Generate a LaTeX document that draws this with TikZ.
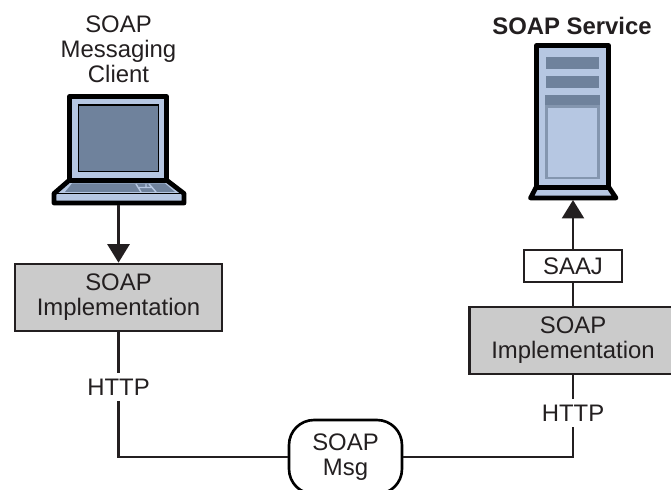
\documentclass[tikz,border=0pt]{standalone}
\usepackage{fontspec}
\setmainfont{Liberation Sans}
\usetikzlibrary{arrows.meta}
\definecolor{inkc}{HTML}{231F20}
\definecolor{paleblue}{HTML}{B6C7E2}
\definecolor{slateblue}{HTML}{6F829C}
\definecolor{midblue}{HTML}{8496AF}
\definecolor{boxgrey}{HTML}{CBCBCB}
\tikzset{
  label/.style={font=\fontsize{13.6}{14.2}\selectfont,text=inkc,align=center,inner sep=0pt},
  implbox/.style={label,draw=inkc,line width=1.5pt,fill=boxgrey,minimum width=4.14cm,minimum height=1.34cm},
  wire/.style={draw=inkc,line width=1.5pt},
  arrowwire/.style={wire,-{Triangle[length=0.37cm,width=0.44cm]}},
  outline/.style={draw=black,line width=2.7pt,line join=round}
}
\begin{document}
\begin{tikzpicture}[x=0.02cm,y=-0.02cm]
\useasboundingbox (0,0) rectangle (671,489);
\clip (0,0) rectangle (671,489);

% client laptop
\draw[outline,fill=paleblue] (69.5,180) -- (69.5,96.5) -- (166.5,96.5) -- (166.5,180);
\draw[draw=black,line width=0.8pt,fill=slateblue] (78.7,105) rectangle (158.3,171.7);
\fill[midblue] (70.5,178) rectangle (165.5,181);
\draw[outline,fill=paleblue] (69,180.5) -- (167,180.5) -- (184,193.5) -- (184,203) -- (54,203) -- (54,193.5) -- cycle;
\fill[slateblue] (72,183.5) -- (165,183.5) -- (175,192) -- (65,192) -- cycle;
\draw[paleblue,line width=0.8pt] (136,184) -- (141,192) (149,184) -- (156,192) (139,187.5) -- (153,187.5) (146,184) -- (146,187.5);
\draw[black,line width=1pt] (54,193.5) -- (184,193.5);

% service tower
\draw[outline,fill=paleblue] (536.3,188) -- (536.3,45.6) -- (608.7,45.6) -- (608.7,188);
\fill[slateblue] (546,56.7) rectangle (599,69);
\fill[slateblue] (546,75.7) rectangle (599,87.7);
\fill[slateblue] (545,95) rectangle (600,107);
\draw[midblue,line width=1.3pt,fill=paleblue] (546.5,106.5) rectangle (598.5,178);
\draw[outline,fill=paleblue] (536,187.5) -- (609,187.5) -- (616,198) -- (530.5,198) -- cycle;

% labels and boxes
\node[label] (clientname) at (118.5,49.5) {SOAP\\Messaging\\Client};
\node[label,font=\fontsize{13.6}{14.2}\selectfont\bfseries] (servicename) at (572,26) {SOAP Service};
\coordinate (laptop) at (118.5,205);
\coordinate (tower) at (573,200);
\node[implbox] (leftimpl) at (118.5,297.5) {SOAP\\Implementation};
\node[implbox] (rightimpl) at (573,340.5) {SOAP\\Implementation};
\node[label,draw=inkc,line width=1.5pt,minimum width=1.96cm,minimum height=0.64cm] (saaj) at (573,266) {SAAJ};
\node[label,minimum height=0.54cm] (lefthttp) at (118.5,387) {HTTP};
\node[label,minimum height=0.54cm] (righthttp) at (573,413) {HTTP};
\node[label,draw=black,line width=1.5pt,rounded corners=0.5cm,minimum width=2.26cm,minimum height=1.48cm] (msg) at (345.5,457) {SOAP\\Msg};

% connectors
\draw[arrowwire] (laptop) -- (leftimpl);
\draw[wire] (leftimpl) -- (lefthttp);
\draw[wire] (lefthttp) |- (msg);
\draw[wire] (msg) -| (righthttp);
\draw[wire] (righthttp) -- (rightimpl);
\draw[wire] (rightimpl) -- (saaj);
\draw[arrowwire] (saaj) -- (tower);
\end{tikzpicture}
\end{document}
